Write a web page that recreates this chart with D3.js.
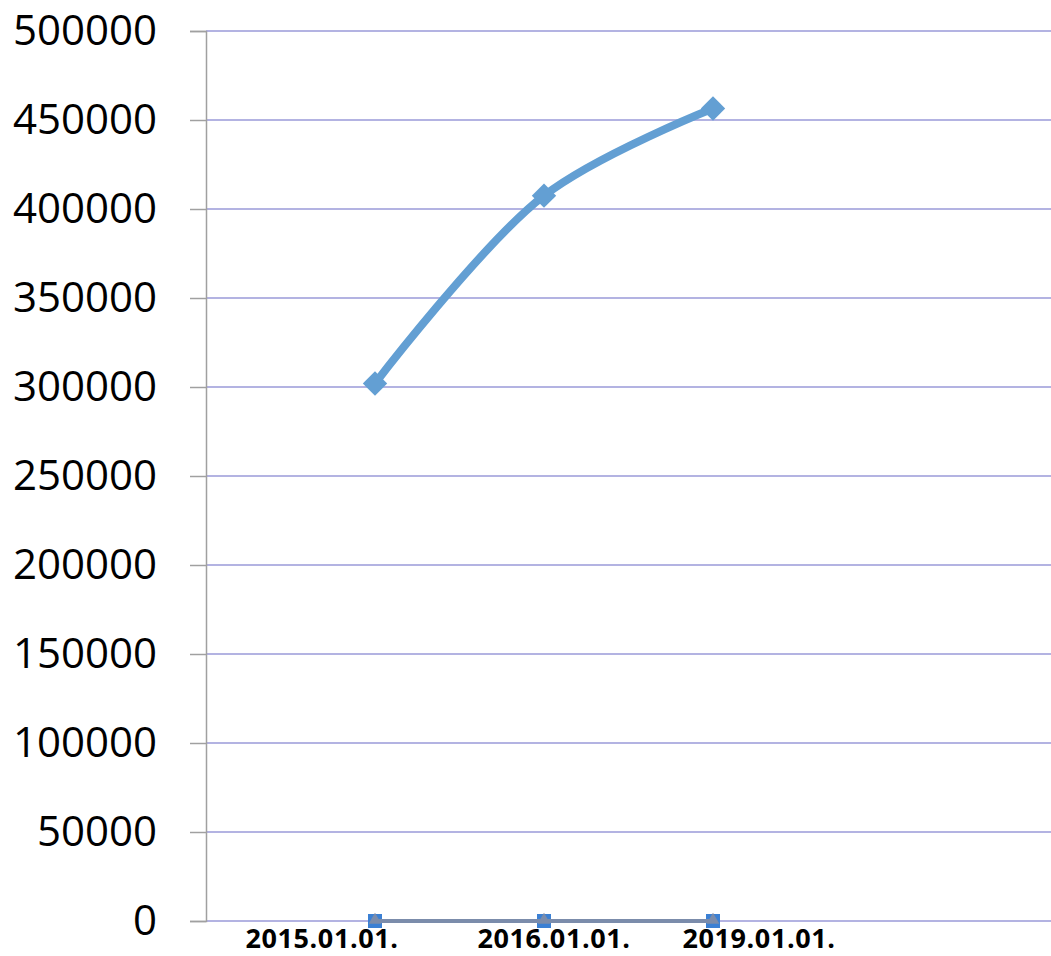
<!DOCTYPE html>
<html>
<head>
<meta charset="utf-8">
<script src="https://cdn.jsdelivr.net/npm/d3@7"></script>
<style>
  body { margin: 0; background: #fff; }
  svg { display: block; }
</style>
</head>
<body>
<div id="chart"></div>
<script>
// data
const categories = ["2015.01.01.", "2016.01.01.", "2019.01.01."];
const seriesMain = [302000, 407500, 456500];
const seriesSquares = [0, 0, 0];
const seriesTriangles = [0, 0, 0];
const yTicks = [0, 50000, 100000, 150000, 200000, 250000, 300000, 350000, 400000, 450000, 500000];

const width = 1051, height = 956;
const plotLeft = 206, plotRight = 1051, plotTop = 31, plotBottom = 921;

// category slots: the plot is split in 5 equal steps, points sit on slots 1..3
const xScale = d3.scaleLinear().domain([0, 5]).range([plotLeft, plotRight]);
const yScale = d3.scaleLinear().domain([0, 500000]).range([plotBottom, plotTop]);

// label shifts from the point, as they appear in the picture
const labelShift = [-53, 10, 46];

const svg = d3.select("#chart").append("svg")
  .attr("width", width)
  .attr("height", height);

// gridlines
svg.append("g")
  .selectAll("line")
  .data(yTicks)
  .enter()
  .append("line")
  .attr("x1", plotLeft)
  .attr("x2", plotRight)
  .attr("y1", d => yScale(d))
  .attr("y2", d => yScale(d))
  .attr("stroke", "#9a9ad8")
  .attr("stroke-width", 1.4);

// y axis
const yAxis = d3.axisLeft(yScale)
  .tickValues(yTicks)
  .tickFormat(d3.format("d"))
  .tickSize(16)
  .tickPadding(33);

const gy = svg.append("g")
  .attr("transform", `translate(${plotLeft},0)`)
  .call(yAxis);
gy.select(".domain").attr("stroke", "#a0a0a0").attr("stroke-width", 1.5);
gy.selectAll(".tick line").attr("stroke", "#a0a0a0").attr("stroke-width", 1.5);
gy.selectAll(".tick text")
  .attr("fill", "#000")
  .style("font-family", "'Open Sans', sans-serif")
  .style("font-size", "42px");

// x labels
svg.append("g")
  .selectAll("text")
  .data(categories)
  .enter()
  .append("text")
  .attr("x", (d, i) => xScale(i + 1) + labelShift[i])
  .attr("y", 948)
  .attr("text-anchor", "middle")
  .style("font-family", "'Open Sans', sans-serif")
  .style("font-weight", "bold")
  .style("font-size", "27px")
  .style("letter-spacing", "0.6px")
  .attr("fill", "#000")
  .text(d => d);

// main smooth line
const line = d3.line()
  .x((d, i) => xScale(i + 1))
  .y(d => yScale(d))
  .curve(d3.curveCatmullRom.alpha(0.5));

svg.append("path")
  .datum(seriesMain)
  .attr("fill", "none")
  .attr("stroke", "#639fd3")
  .attr("stroke-width", 8)
  .attr("stroke-linecap", "round")
  .attr("d", line);

const diamond = d3.symbol().type(d3.symbolDiamond2).size(380);
svg.append("g")
  .selectAll("path")
  .data(seriesMain)
  .enter()
  .append("path")
  .attr("transform", (d, i) => `translate(${xScale(i + 1)},${yScale(d)})`)
  .attr("d", diamond)
  .attr("fill", "#639fd3");

// squares series at zero
svg.append("g")
  .selectAll("rect")
  .data(seriesSquares)
  .enter()
  .append("rect")
  .attr("x", (d, i) => xScale(i + 1) - 7)
  .attr("y", d => yScale(d) - 7)
  .attr("width", 14)
  .attr("height", 14)
  .attr("fill", "#3b80d4");

// triangles series at zero
const flatLine = d3.line()
  .x((d, i) => xScale(i + 1))
  .y(d => yScale(d));

svg.append("path")
  .datum(seriesTriangles)
  .attr("fill", "none")
  .attr("stroke", "#7b8cab")
  .attr("stroke-width", 4)
  .attr("d", flatLine);

const tri = d3.symbol().type(d3.symbolTriangle).size(70);
svg.append("g")
  .selectAll("path")
  .data(seriesTriangles)
  .enter()
  .append("path")
  .attr("transform", (d, i) => `translate(${xScale(i + 1)},${yScale(d) - 1})`)
  .attr("d", tri)
  .attr("fill", "#7b8cab");
</script>
</body>
</html>
